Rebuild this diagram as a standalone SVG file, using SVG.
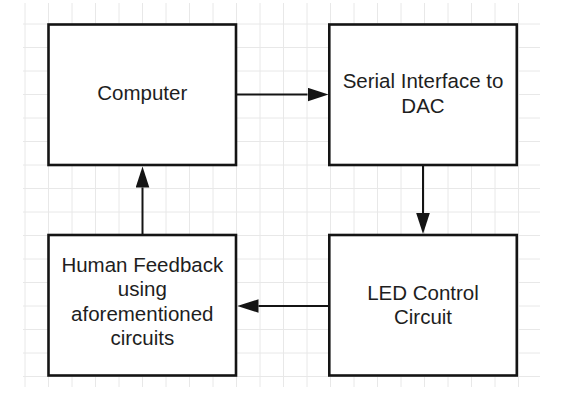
<svg xmlns="http://www.w3.org/2000/svg" width="568" height="400" viewBox="0 0 568 400">
  <defs>
    <style>
      .grid line { stroke: #e8e8e8; stroke-width: 1; }
      .box { fill: #ffffff; stroke: #141414; stroke-width: 2.6; }
      .lbl { font-family: "Liberation Sans", Arial, sans-serif; font-size: 20.5px; fill: #1e1e1e; text-anchor: middle; }
      .conn { stroke: #141414; stroke-width: 2; fill: none; marker-end: url(#arrow); }
    </style>
    <marker id="arrow" markerUnits="userSpaceOnUse" markerWidth="21" markerHeight="14" viewBox="0 0 20 13" refX="0" refY="6.5" orient="auto">
      <path d="M0,0 L20,6.5 L0,13 Z" fill="#141414"/>
    </marker>
  </defs>
  <rect x="0" y="0" width="568" height="400" fill="#ffffff"/>
  <g class="grid">
    <line x1="25" y1="3" x2="25" y2="387"/>
    <line x1="48.5" y1="3" x2="48.5" y2="387"/>
    <line x1="72" y1="3" x2="72" y2="387"/>
    <line x1="95.5" y1="3" x2="95.5" y2="387"/>
    <line x1="119" y1="3" x2="119" y2="387"/>
    <line x1="142.5" y1="3" x2="142.5" y2="387"/>
    <line x1="166" y1="3" x2="166" y2="387"/>
    <line x1="189.5" y1="3" x2="189.5" y2="387"/>
    <line x1="213" y1="3" x2="213" y2="387"/>
    <line x1="236.5" y1="3" x2="236.5" y2="387"/>
    <line x1="260" y1="3" x2="260" y2="387"/>
    <line x1="283.5" y1="3" x2="283.5" y2="387"/>
    <line x1="307" y1="3" x2="307" y2="387"/>
    <line x1="330.5" y1="3" x2="330.5" y2="387"/>
    <line x1="354" y1="3" x2="354" y2="387"/>
    <line x1="377.5" y1="3" x2="377.5" y2="387"/>
    <line x1="401" y1="3" x2="401" y2="387"/>
    <line x1="424.5" y1="3" x2="424.5" y2="387"/>
    <line x1="448" y1="3" x2="448" y2="387"/>
    <line x1="471.5" y1="3" x2="471.5" y2="387"/>
    <line x1="495" y1="3" x2="495" y2="387"/>
    <line x1="518.5" y1="3" x2="518.5" y2="387"/>
    <line x1="23" y1="24" x2="540" y2="24"/>
    <line x1="23" y1="47.5" x2="540" y2="47.5"/>
    <line x1="23" y1="71" x2="540" y2="71"/>
    <line x1="23" y1="94.5" x2="540" y2="94.5"/>
    <line x1="23" y1="118" x2="540" y2="118"/>
    <line x1="23" y1="141.5" x2="540" y2="141.5"/>
    <line x1="23" y1="165" x2="540" y2="165"/>
    <line x1="23" y1="188.5" x2="540" y2="188.5"/>
    <line x1="23" y1="212" x2="540" y2="212"/>
    <line x1="23" y1="235.5" x2="540" y2="235.5"/>
    <line x1="23" y1="259" x2="540" y2="259"/>
    <line x1="23" y1="282.5" x2="540" y2="282.5"/>
    <line x1="23" y1="306" x2="540" y2="306"/>
    <line x1="23" y1="329.5" x2="540" y2="329.5"/>
    <line x1="23" y1="353" x2="540" y2="353"/>
    <line x1="23" y1="376.5" x2="540" y2="376.5"/>
  </g>
  <g id="computer">
    <rect class="box" x="48.5" y="24.5" width="187.5" height="140.5"/>
    <text class="lbl" x="142.3" y="99.5">Computer</text>
  </g>
  <g id="serial">
    <rect class="box" x="329.3" y="24.5" width="187.5" height="140.5"/>
    <text class="lbl" x="423" y="88">Serial Interface to</text>
    <text class="lbl" x="423" y="112.5">DAC</text>
  </g>
  <g id="led">
    <rect class="box" x="329.3" y="235" width="187.5" height="140.5"/>
    <text class="lbl" x="423" y="299.5">LED Control</text>
    <text class="lbl" x="423" y="324">Circuit</text>
  </g>
  <g id="human">
    <rect class="box" x="48.5" y="235" width="187.5" height="140.5"/>
    <text class="lbl" x="142.3" y="271.5">Human Feedback</text>
    <text class="lbl" x="142.3" y="296">using</text>
    <text class="lbl" x="142.3" y="320.5">aforementioned</text>
    <text class="lbl" x="142.3" y="345">circuits</text>
  </g>
  <g id="connectors">
    <line class="conn" x1="237" y1="94.5" x2="307.5" y2="94.5"/>
    <line class="conn" x1="423" y1="166" x2="423" y2="213"/>
    <line class="conn" x1="328" y1="306" x2="258.5" y2="306"/>
    <line class="conn" x1="142.5" y1="234" x2="142.5" y2="187.5"/>
  </g>
</svg>
